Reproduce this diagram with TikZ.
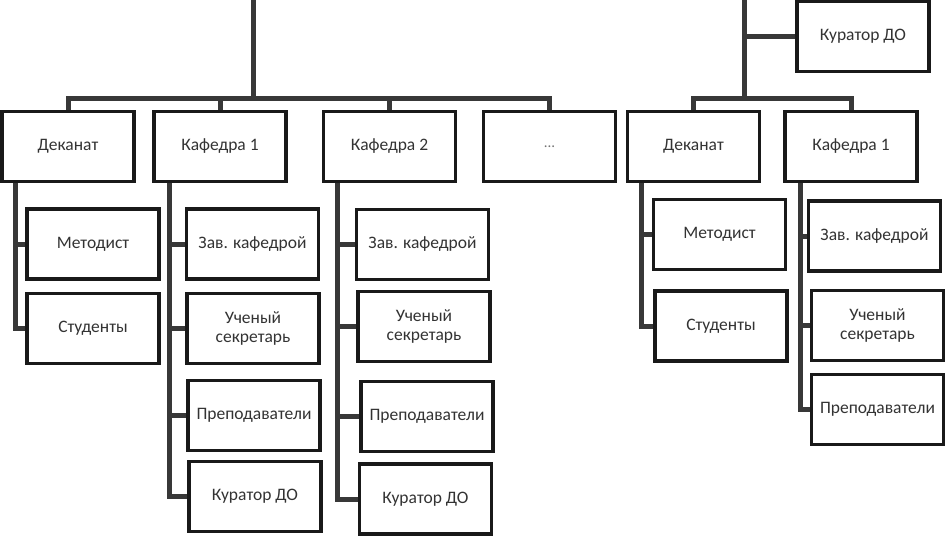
\documentclass[tikz,border=0pt]{standalone}
\usepackage{fontspec}
\setmainfont{Carlito}
\begin{document}
\begin{tikzpicture}[x=1pt,y=-1pt,
  box/.style={draw=black!90, line width=2.4pt, fill=white, minimum width=131pt, minimum height=68.5pt,
    inner sep=0pt, align=center, text=black!80, font=\fontsize{17.5}{19.5}\selectfont},
  conn/.style={draw=black!78, line width=5pt}]
\useasboundingbox (0,0) rectangle (946,536);
% top level
\node[box] (dek1) at (68,146.5) {Деканат};
\node[box] (k1) at (220,146.5) {Кафедра 1};
\node[box] (k2) at (389.5,146.5) {Кафедра 2};
\node[box] (dots) at (549.5,146.5) {\fontsize{15}{16}\selectfont\textcolor{black!55}{...}};
\node[box] (dek2) at (693.5,146.5) {Деканат};
\node[box] (k3) at (851,146.5) {Кафедра 1};
\node[box] (kur) at (863,36.5) {Куратор ДО};
% children
\node[box] (m1) at (93,244) {Методист};
\node[box] (s1) at (93,328.5) {Студенты};
\node[box] (z1) at (252.5,244) {Зав. кафедрой};
\node[box] (u1) at (253,328.5) {Ученый\\секретарь};
\node[box] (p1) at (254,415.5) {Преподаватели};
\node[box] (c1) at (255,496.5) {Куратор ДО};
\node[box] (z2) at (422.5,244.5) {Зав. кафедрой};
\node[box] (u2) at (424,326.5) {Ученый\\секретарь};
\node[box] (p2) at (427,416.5) {Преподаватели};
\node[box] (c2) at (425.5,499) {Куратор ДО};
\node[box] (m3) at (719.5,234.5) {Методист};
\node[box] (s3) at (721,326) {Студенты};
\node[box] (z4) at (874.5,236) {Зав. кафедрой};
\node[box] (u4) at (877.5,325.5) {Ученый\\секретарь};
\node[box] (p4) at (877.5,409.5) {Преподаватели};
% coordinates
\coordinate (top1) at (253,0);
\coordinate (bus1) at (253,98);
\coordinate (top2) at (744,0);
\coordinate (bus2) at (744,98);
% connectors (left group)
\draw[conn] (top1) -- (bus1);
\draw[conn] (dek1.north) |- (bus1) -| (dots.north);
\draw[conn] (k1.north) -- (k1.north |- bus1);
\draw[conn] (k2.north) -- (k2.north |- bus1);
\draw[conn] ([xshift=14pt]dek1.south west) |- (m1.west);
\draw[conn] ([xshift=14pt]dek1.south west) |- (s1.west);
\draw[conn] ([xshift=16pt]k1.south west) |- (z1.west);
\draw[conn] ([xshift=16pt]k1.south west) |- (u1.west);
\draw[conn] ([xshift=16pt]k1.south west) |- (p1.west);
\draw[conn] ([xshift=16pt]k1.south west) |- (c1.west);
\draw[conn] ([xshift=15pt]k2.south west) |- (z2.west);
\draw[conn] ([xshift=15pt]k2.south west) |- (u2.west);
\draw[conn] ([xshift=15pt]k2.south west) |- (p2.west);
\draw[conn] ([xshift=15pt]k2.south west) |- (c2.west);
% connectors (right group)
\draw[conn] (top2) -- (bus2);
\draw[conn] (top2 |- kur.west) -- (kur.west);
\draw[conn] (dek2.north) |- (bus2) -| (k3.north);
\draw[conn] ([xshift=15pt]dek2.south west) |- (m3.west);
\draw[conn] ([xshift=15pt]dek2.south west) |- (s3.west);
\draw[conn] ([xshift=16pt]k3.south west) |- (z4.west);
\draw[conn] ([xshift=16pt]k3.south west) |- (u4.west);
\draw[conn] ([xshift=16pt]k3.south west) |- (p4.west);
% redraw box borders on top of connectors
\foreach \n in {dek1,k1,k2,dots,dek2,k3,kur,m1,s1,z1,u1,p1,c1,z2,u2,p2,c2,m3,s3,z4,u4,p4}
  \draw[draw=black!90, line width=2.4pt] (\n.north west) rectangle (\n.south east);
\end{tikzpicture}
\end{document}
